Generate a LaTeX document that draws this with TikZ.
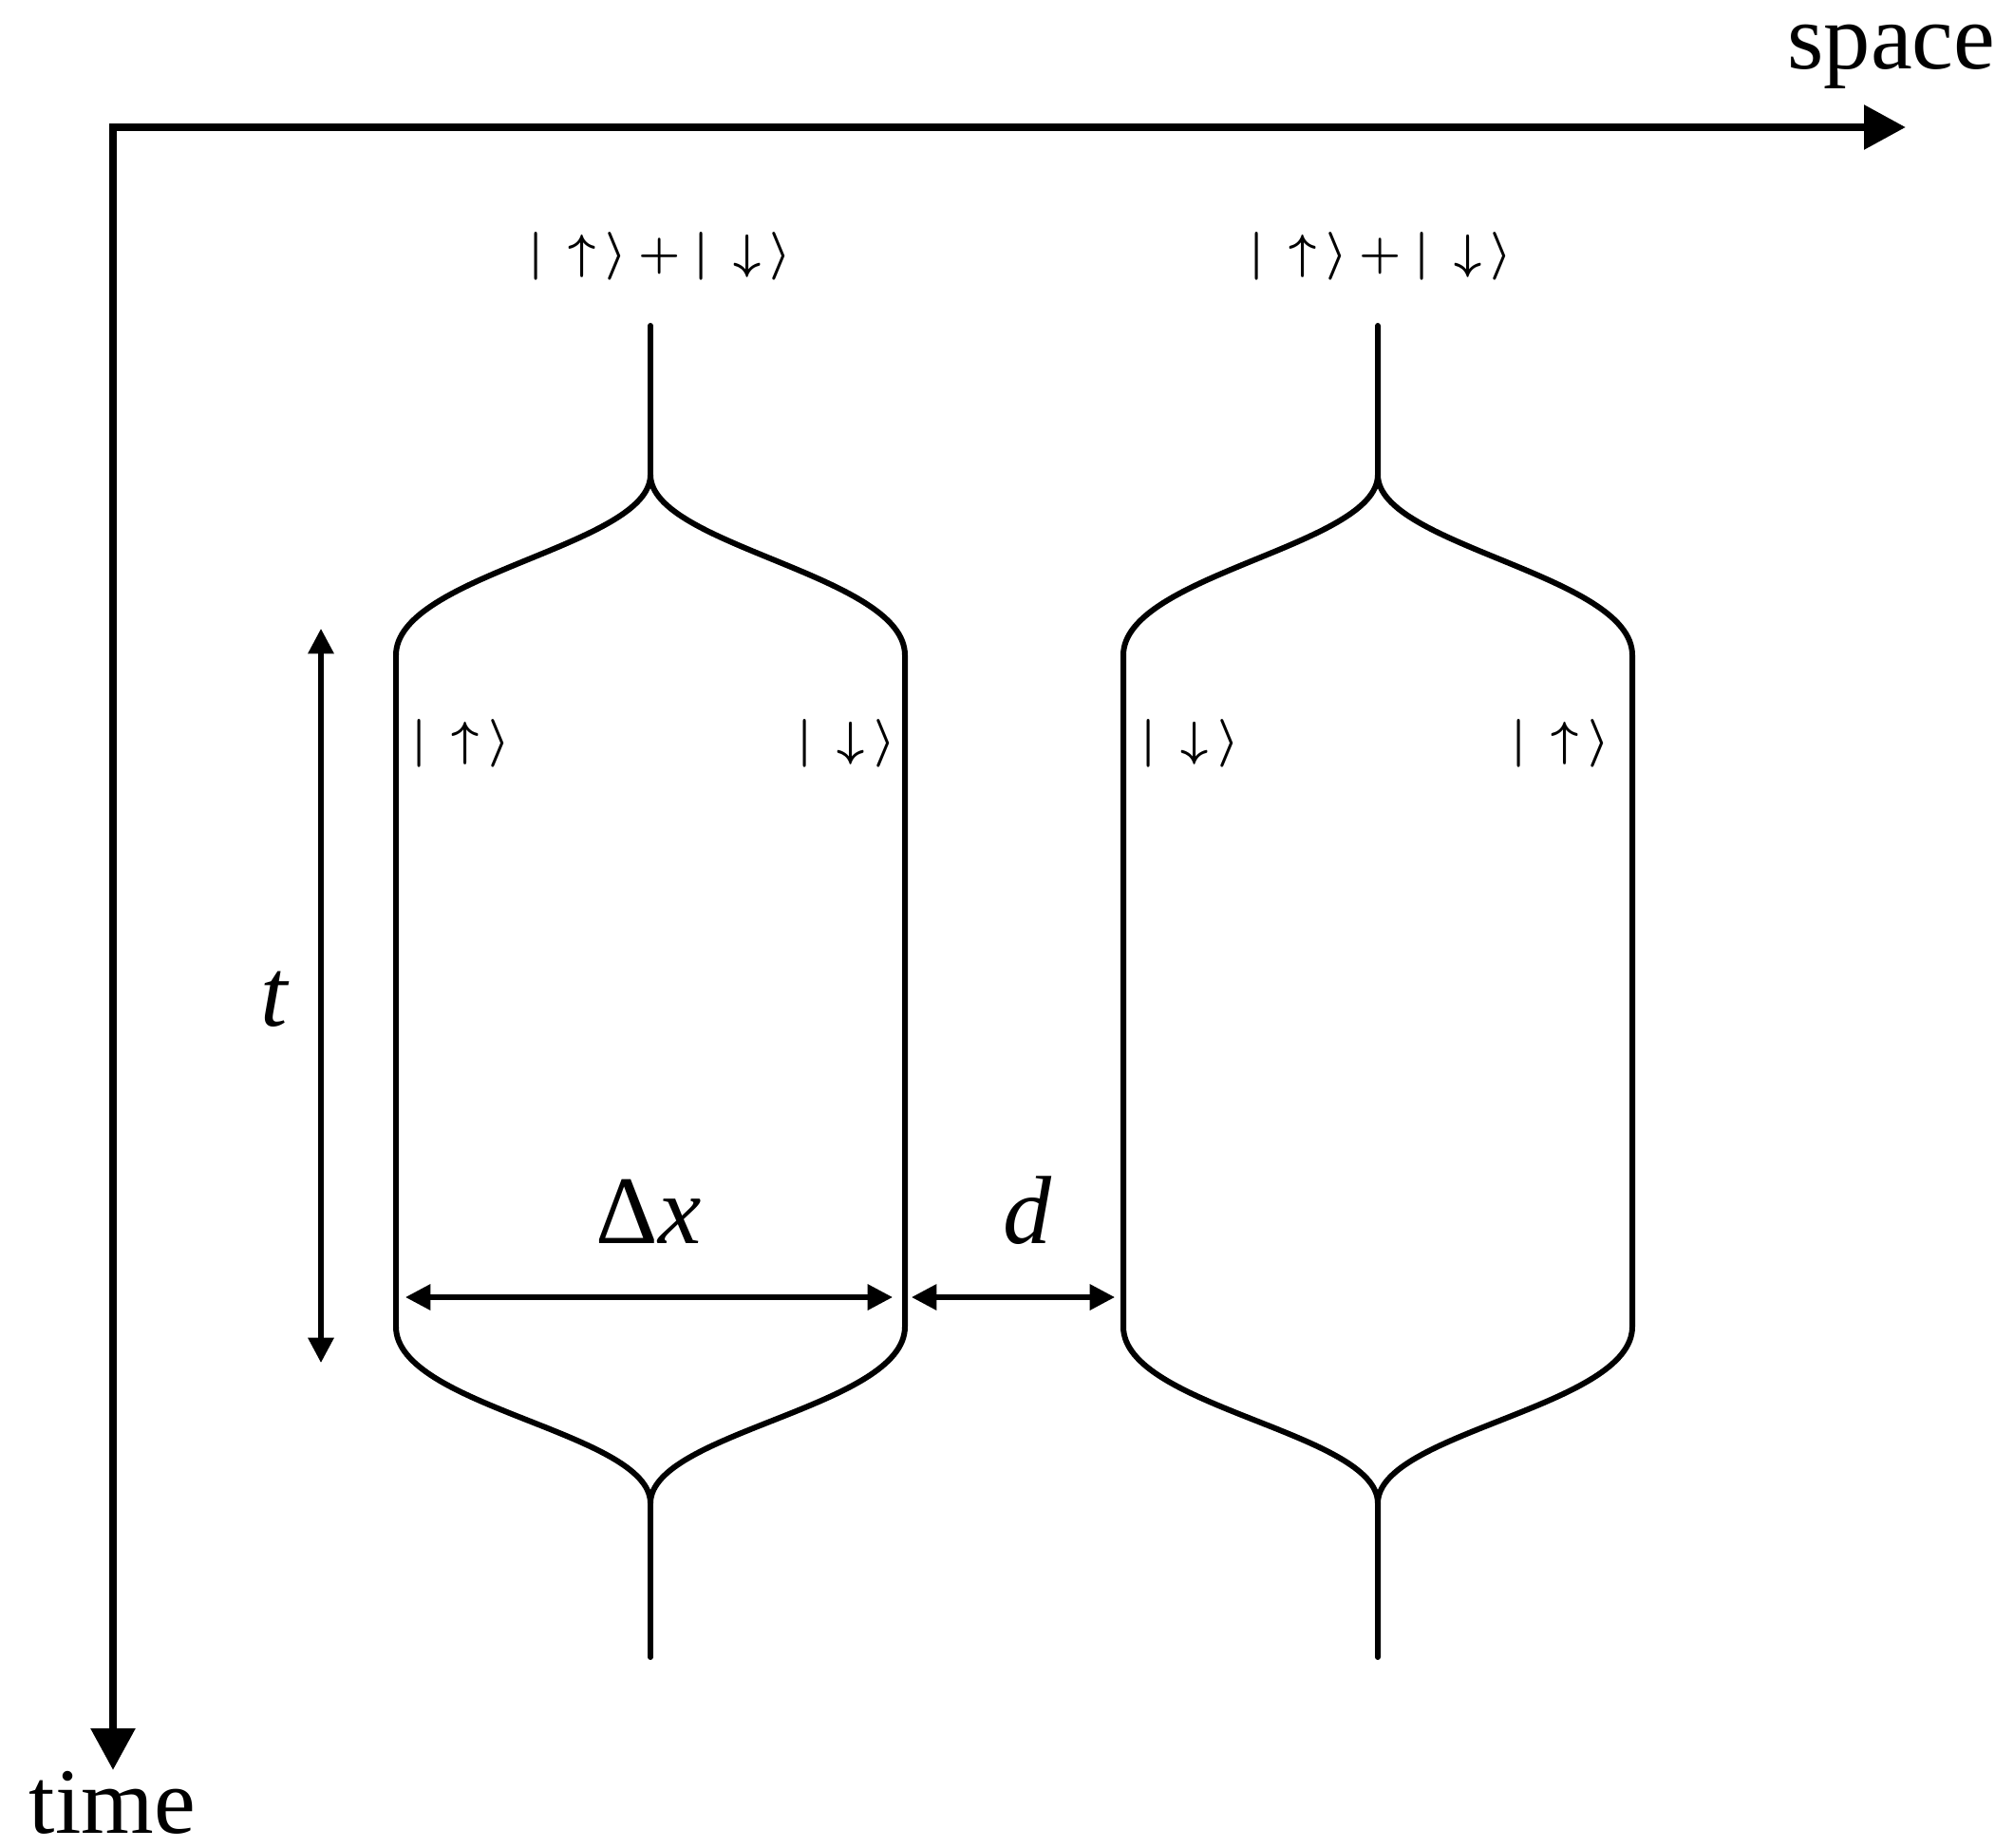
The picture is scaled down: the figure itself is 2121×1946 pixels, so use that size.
\documentclass[tikz,border=0pt]{standalone}
\usepackage{fontspec}
\setmainfont{Liberation Serif}
\usetikzlibrary{arrows.meta}
\tikzset{
  axisline/.style={line width=2.5pt, {Triangle[length=12.5pt,width=12.8pt]}-{Triangle[length=12.5pt,width=12.8pt]}},
  beamline/.style={line width=1.7pt, line cap=round},
  dimarrow/.style={line width=1.5pt, {Triangle[length=7.5pt,width=7.5pt]}-{Triangle[length=7.5pt,width=7.5pt]}},
  ket/.style={font=\fontsize{15}{18}\selectfont\boldmath, inner sep=0pt},
  dimtext/.style={font=\fontsize{29}{34}\selectfont, inner sep=0pt},
  axistext/.style={font=\fontsize{28}{32}\selectfont, inner sep=0pt},
}
\begin{document}
\begin{tikzpicture}[x=0.01cm, y=-0.01cm]
    \useasboundingbox (0,0) rectangle (2121,1946);
    % space and time axes
    \coordinate (origin) at (119,134);
    \coordinate (xend) at (2007,134);
    \coordinate (tend) at (119,1864);
    \draw[axisline] (xend) -- (origin) -- (tend);
    \node[axistext, anchor=base east] (spacelab) at (2102,73) {space};
    \node[axistext, anchor=base west] (timelab) at (30,1930) {time};
    % the two split beams
    \foreach \c in {685,1451} {
        \draw[beamline] (\c,343) -- (\c,500)
            .. controls (\c,575) and ({\c-268},605) .. ({\c-268},690)
            -- ({\c-268},1397)
            .. controls ({\c-268},1482) and (\c,1508) .. (\c,1583) -- (\c,1745);
        \draw[beamline] (\c,500)
            .. controls (\c,575) and ({\c+268},605) .. ({\c+268},690)
            -- ({\c+268},1397)
            .. controls ({\c+268},1482) and (\c,1508) .. (\c,1583);
    }
    % spin states
    \node[ket] (supL) at (695,270) {$|\,\uparrow\,\rangle+|\,\downarrow\,\rangle$};
    \node[ket] (supR) at (1454,270) {$|\,\uparrow\,\rangle+|\,\downarrow\,\rangle$};
    \node[ket] (upL) at (485,783) {$|\,\uparrow\,\rangle$};
    \node[ket] (downL) at (891,783) {$|\,\downarrow\,\rangle$};
    \node[ket] (downR) at (1253,783) {$|\,\downarrow\,\rangle$};
    \node[ket] (upR) at (1643,783) {$|\,\uparrow\,\rangle$};
    % sizes
    \coordinate (dxa) at (427,1366);
    \coordinate (dxb) at (940,1366);
    \coordinate (da) at (960,1366);
    \coordinate (db) at (1174,1366);
    \coordinate (ta) at (338,662);
    \coordinate (tb) at (338,1435);
    \draw[dimarrow] (dxa) -- (dxb);
    \draw[dimarrow] (da) -- (db);
    \draw[dimarrow] (ta) -- (tb);
    \node[dimtext, anchor=base] (dxlab) at (683,1309) {Δ\textit{x}};
    \node[dimtext, anchor=base] (dlab) at (1082,1309) {\textit{d}};
    \node[dimtext, anchor=base] (tlab) at (290,1080) {\textit{t}};
\end{tikzpicture}
\end{document}
